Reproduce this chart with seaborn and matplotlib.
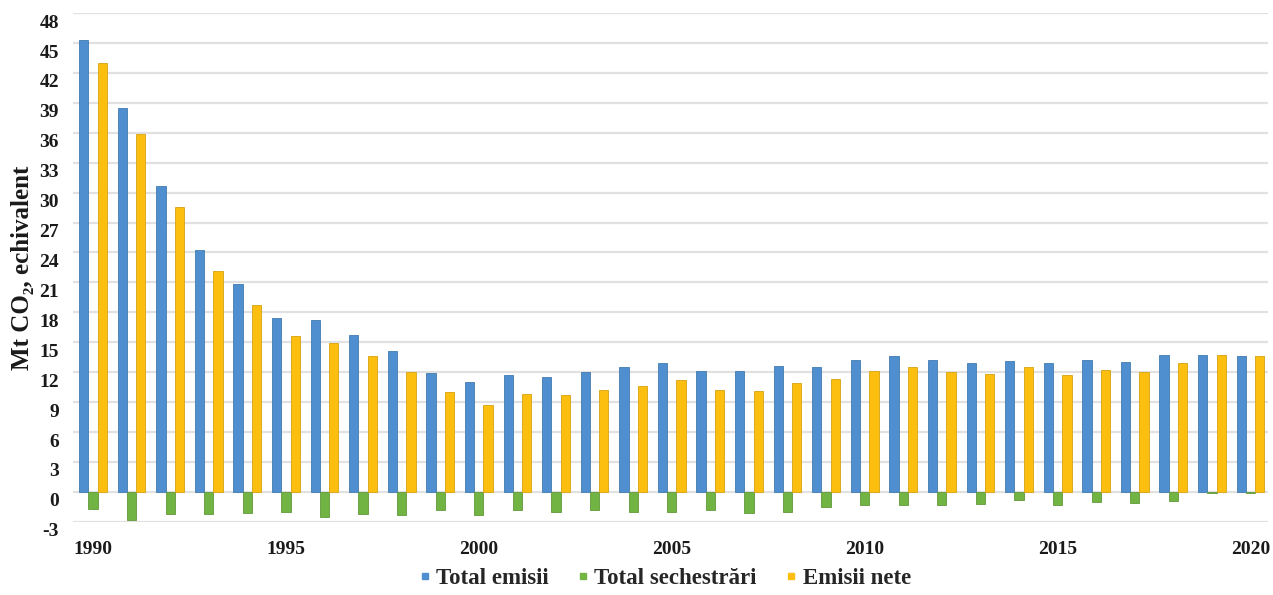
import numpy as np
import pandas as pd
import matplotlib
matplotlib.use("Agg")
import matplotlib.pyplot as plt
from matplotlib.lines import Line2D
from matplotlib.transforms import ScaledTranslation
import seaborn as sns

# Annual greenhouse gas balance, Mt CO2 equivalent
years = list(range(1990, 2021))
total_emisii = [45.3, 38.5, 30.7, 24.2, 20.8, 17.4, 17.2, 15.7, 14.1, 11.9,
                11.0, 11.7, 11.5, 12.0, 12.5, 12.9, 12.1, 12.1, 12.6, 12.5,
                13.2, 13.6, 13.2, 12.9, 13.1, 12.9, 13.2, 13.0, 13.7, 13.7,
                13.6]
total_sechestrari = [-1.7, -2.8, -2.2, -2.2, -2.1, -2.0, -2.5, -2.2, -2.3, -1.8,
                     -2.3, -1.8, -2.0, -1.8, -2.0, -2.0, -1.8, -2.1, -2.0, -1.5,
                     -1.3, -1.3, -1.3, -1.2, -0.8, -1.3, -1.0, -1.1, -0.9, -0.1,
                     -0.1]
emisii_nete = [43.0, 35.9, 28.6, 22.1, 18.7, 15.6, 14.9, 13.6, 12.0, 10.0,
               8.7, 9.8, 9.7, 10.2, 10.6, 11.2, 10.2, 10.1, 10.9, 11.3,
               12.1, 12.5, 12.0, 11.8, 12.5, 11.7, 12.2, 12.0, 12.9, 13.7,
               13.6]

series_names = ["Total emisii", "Total sechestrări", "Emisii nete"]
series_colors = ["#4f8fcf", "#72b444", "#fcbf10"]
y_ticks = list(range(-3, 49, 3))
x_tick_years = [1990, 1995, 2000, 2005, 2010, 2015, 2020]

df = pd.DataFrame({
    "An": years * 3,
    "Valoare": total_emisii + total_sechestrari + emisii_nete,
    "Serie": [s for s in series_names for _ in years],
})

sns.set_theme(style="white")
plt.rcParams["font.family"] = ["Liberation Serif", "DejaVu Serif"]
plt.rcParams["font.weight"] = "bold"

fig = plt.figure(figsize=(12.73, 5.95), dpi=100)
ax = fig.add_axes([0.0573, 0.123, 0.9387, 0.855])

sns.barplot(data=df, x="An", y="Valoare", hue="Serie", hue_order=series_names,
            palette=series_colors, width=0.72, gap=0, saturation=1,
            errorbar=None, ax=ax, legend=False, zorder=3)

for patch in ax.patches:
    fc = patch.get_facecolor()
    patch.set_edgecolor(tuple(c * 0.85 for c in fc[:3]))
    patch.set_linewidth(0.6)

ax.set_xlim(-0.52, 30.45)
ax.set_ylim(-3, 48)
ax.set_yticks(y_ticks)
ax.set_yticklabels([str(v) for v in y_ticks])
ax.set_xticks([years.index(y) for y in x_tick_years])
ax.set_xticklabels([str(y) for y in x_tick_years])

ax.grid(axis="y", color="#e1e1e1", linewidth=1.6, zorder=0)
ax.grid(axis="x", visible=False)
for side in ax.spines.values():
    side.set_visible(False)

ax.tick_params(axis="y", length=0, pad=10, labelsize=14, labelcolor="#1a1a1a")
ax.tick_params(axis="x", length=0, pad=14, labelsize=14, labelcolor="#1a1a1a")
for lbl in ax.get_yticklabels():
    lbl.set_fontweight("bold")
    lbl.set_transform(lbl.get_transform() +
                      ScaledTranslation(0, -0.08, fig.dpi_scale_trans))
for lbl in ax.get_xticklabels():
    lbl.set_fontweight("bold")

ax.set_xlabel("")
ax.set_ylabel("Mt CO₂, echivalent", fontsize=18, fontweight="bold",
              color="#1a1a1a", labelpad=4)

handles = [Line2D([0], [0], marker="s", linestyle="none", markersize=5,
                  markerfacecolor=c, markeredgecolor=c) for c in series_colors]
fig.legend(handles, series_names, loc="center", bbox_to_anchor=(0.52, 0.028),
           ncol=3, frameon=False, handletextpad=0.0, columnspacing=1.0,
           handlelength=1.0, prop={"size": 16.5, "weight": "bold"})

fig.savefig("out.png", dpi=100, facecolor="white")
